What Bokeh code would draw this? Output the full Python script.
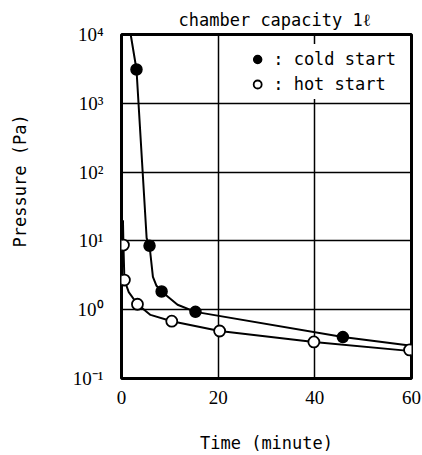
from bokeh.plotting import figure
from bokeh.models import (Range1d, FixedTicker, CustomJSTickFormatter, Legend, LegendItem)
from bokeh.embed import file_html
from bokeh.resources import INLINE

# ---- data ----
cold_t = [3.1, 5.8, 8.3, 15.3, 45.8]
cold_p = [3100, 8.5, 1.84, 0.93, 0.40]
hot_t = [0.4, 0.6, 3.3, 10.4, 20.3, 39.8, 59.6]
hot_p = [8.7, 2.7, 1.2, 0.68, 0.49, 0.34, 0.26]

# hand-read points along the drawn fitted curves
cold_curve_t = [1.9, 3.1, 5.2, 5.8, 6.5, 7.2, 8.3, 11.6, 15.3, 45.8, 60]
cold_curve_p = [10000, 3100, 11, 8.5, 3.0, 2.25, 1.84, 1.18, 0.93, 0.40, 0.30]
hot_curve_t = [0.3, 0.4, 0.6, 1.5, 3.3, 6.0, 10.4, 20.3, 39.8, 60]
hot_curve_p = [20, 8.7, 2.7, 1.8, 1.2, 0.84, 0.68, 0.49, 0.34, 0.25]

x_ticks = [0, 20, 40, 60]
y_ticks = [0.1, 1, 10, 100, 1000, 10000]

title_text = "chamber capacity 1ℓ"
x_label = "Time (minute)"
y_label = "Pressure (Pa)"
legend_labels = [": cold start", ": hot start"]

MONO = "DejaVu Sans Mono"
SERIF = "Liberation Serif"

p = figure(width=422, height=455, output_backend="svg", toolbar_location=None,
           y_axis_type="log", x_range=Range1d(0, 60), y_range=Range1d(0.1, 10000),
           min_border_left=121, min_border_right=11, min_border_top=34, min_border_bottom=75)
p.background_fill_color = "white"
p.border_fill_color = "white"
p.outline_line_color = "black"
p.outline_line_width = 3

# title
p.title.text = title_text
p.title.text_font = MONO
p.title.text_font_size = "17px"
p.title.text_font_style = "normal"
p.title.align = "left"
p.title.offset = 57
p.title.text_color = "black"

# axes
for ax in (p.xaxis[0], p.yaxis[0]):
    ax.axis_line_alpha = 0
    ax.major_tick_in = 0
    ax.major_tick_out = 0
    ax.minor_tick_in = 0
    ax.minor_tick_out = 0
    ax.major_label_text_font = SERIF
    ax.major_label_text_font_size = "19px"
    ax.major_label_text_color = "black"
    ax.axis_label_text_font = MONO
    ax.axis_label_text_font_size = "17px"
    ax.axis_label_text_font_style = "normal"
    ax.axis_label_text_color = "black"

p.xaxis.ticker = FixedTicker(ticks=x_ticks)
p.xaxis.major_label_standoff = 12
p.xaxis.axis_label = x_label
p.xaxis.axis_label_standoff = 26

p.yaxis.ticker = FixedTicker(ticks=y_ticks)
p.yaxis.major_label_standoff = 18
p.yaxis.formatter = CustomJSTickFormatter(code="""
const e = Math.round(Math.log10(tick));
const sup = {"-":"\u207b","0":"\u2070","1":"\u00b9","2":"\u00b2","3":"\u00b3","4":"\u2074"};
return "10" + String(e).split("").map(c => sup[c]).join("");
""")
# leading no-break spaces shift the label up to where the reference has it
p.yaxis.axis_label = "\u00a0" * 5 + y_label
p.yaxis.axis_label_standoff = 40

# grid
p.xgrid.ticker = FixedTicker(ticks=x_ticks)
p.ygrid.ticker = FixedTicker(ticks=y_ticks)
for g in (p.xgrid[0], p.ygrid[0]):
    g.grid_line_color = "black"
    g.grid_line_width = 1.5
    g.grid_line_alpha = 1

# curves
p.line(cold_curve_t, cold_curve_p, line_color="black", line_width=2)
p.line(hot_curve_t, hot_curve_p, line_color="black", line_width=2)

# points
r_cold = p.scatter(cold_t, cold_p, marker="circle", size=11, fill_color="black",
                   line_color="black", line_width=1.5)
r_hot = p.scatter(hot_t, hot_p, marker="circle", size=11, fill_color="white",
                  line_color="black", line_width=1.8)

legend = Legend(items=[LegendItem(label=legend_labels[0], renderers=[r_cold]),
                       LegendItem(label=legend_labels[1], renderers=[r_hot])],
                location="top_right", margin=10, padding=5, spacing=5,
                glyph_width=20, glyph_height=20, label_height=20, label_standoff=6,
                label_text_font=MONO, label_text_font_size="17px", label_text_color="black",
                background_fill_color="white", background_fill_alpha=1,
                border_line_alpha=0)
p.add_layout(legend)

open("out.html", "w").write(file_html(p, INLINE))
